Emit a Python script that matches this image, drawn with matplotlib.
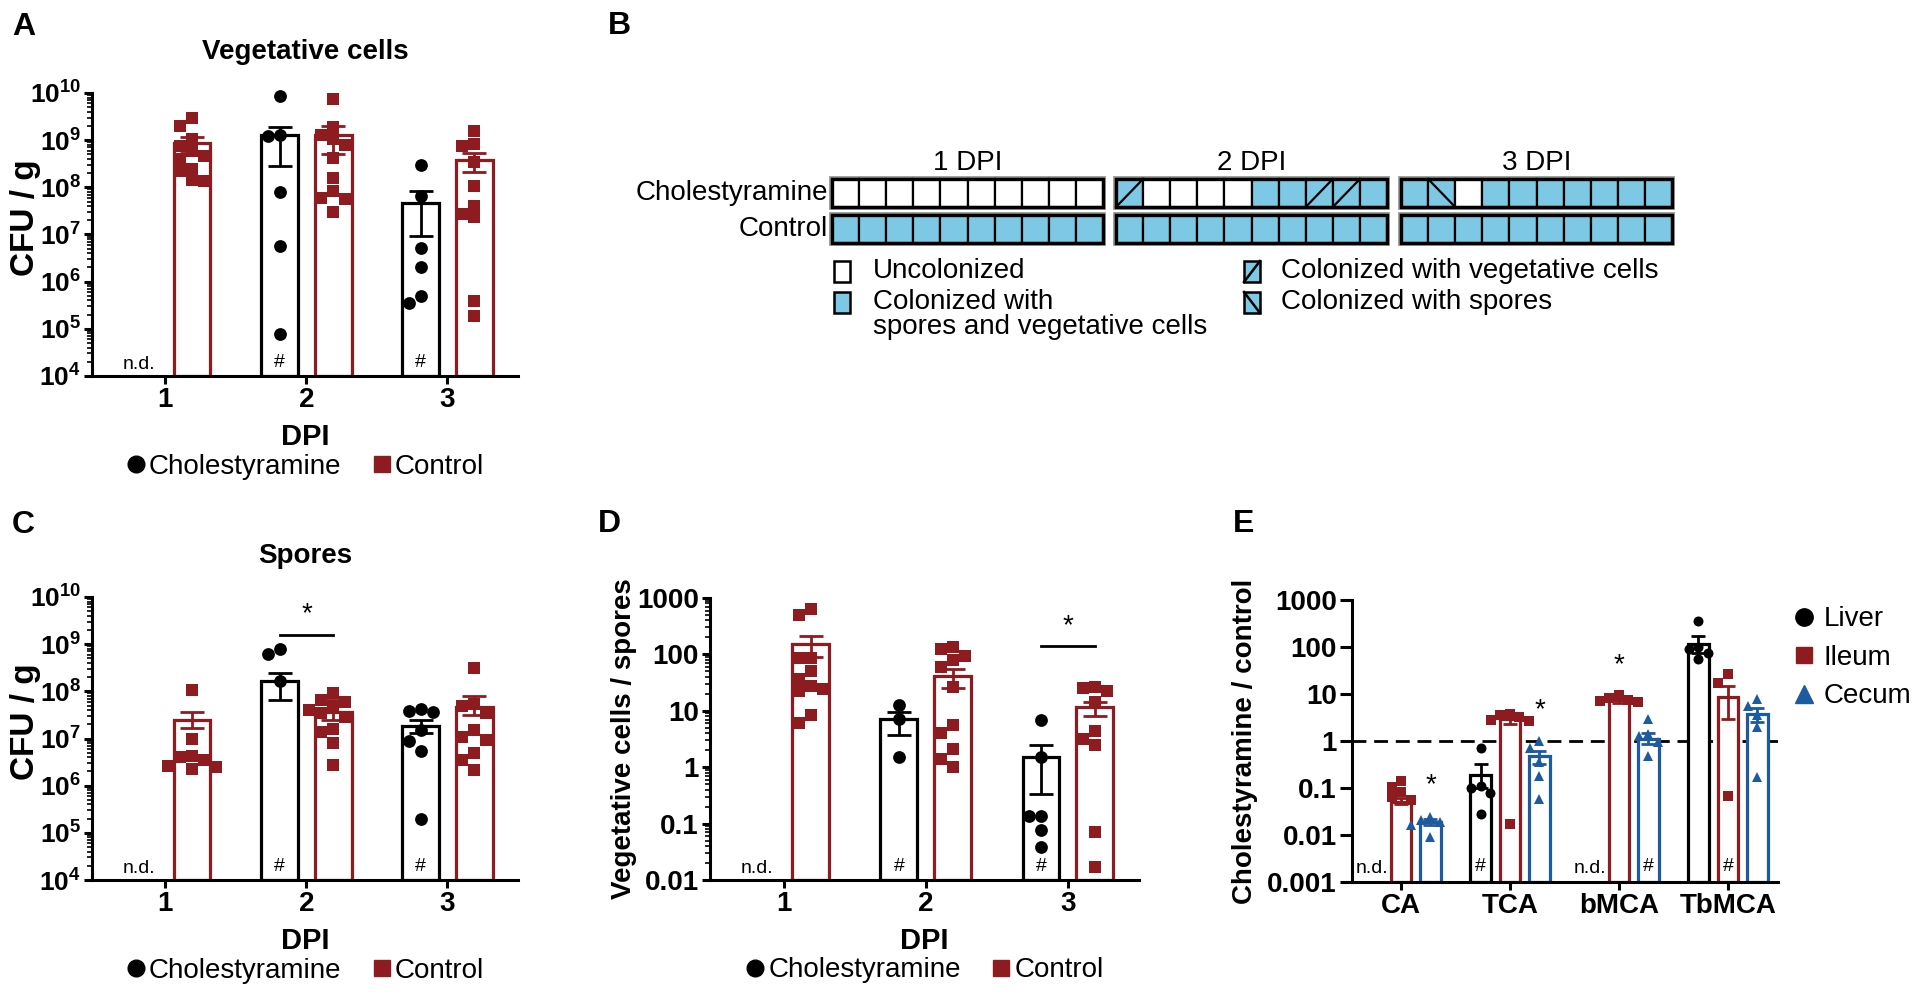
import numpy as np
import matplotlib
matplotlib.use("Agg")
import matplotlib.pyplot as plt
from matplotlib.patches import Rectangle
from matplotlib.lines import Line2D
from matplotlib.ticker import LogLocator, NullLocator, NullFormatter

plt.rcParams['font.family'] = ['Liberation Sans', 'DejaVu Sans']
plt.rcParams['mathtext.fontset'] = 'custom'
plt.rcParams['mathtext.rm'] = 'Liberation Sans'
plt.rcParams['mathtext.bf'] = 'Liberation Sans:bold'
plt.rcParams['axes.linewidth'] = 2.2

RED = '#8E1B1F'
BLUE = '#1E5AA0'
CYAN = '#7DC8E4'
BLACK = '#000000'
NAN = np.nan

# ------------------------------------------------------------------ data
days = [1, 2, 3]
day_labels = ['1', '2', '3']

# Panel A : vegetative cells (CFU/g)
A_chol_pts = [[], [8.5e9, 1.3e9, 1.2e9, 7.8e7, 5.8e6, 7.6e4],
              [3.0e8, 6.5e7, 5.2e6, 2.0e6, 5.0e5, 3.5e5]]
A_ctrl_pts = [[2.9e9, 1.95e9, 1.05e9, 7.6e8, 6.0e8, 4.7e8, 4.0e8, 2.45e8, 2.2e8, 1.4e8, 1.35e8],
              [7.4e9, 1.86e9, 1.26e9, 1.05e9, 7.9e8, 4.1e8, 1.6e8, 8.5e7, 6.0e7, 5.6e7, 3.0e7],
              [1.6e9, 8.3e8, 7.6e8, 3.5e8, 1.07e8, 4.1e7, 2.7e7, 2.3e7, 3.9e5, 1.9e5]]
A_chol_mean = [NAN, 1.29e9, 4.6e7]
A_ctrl_mean = [8.7e8, 1.29e9, 3.8e8]
A_chol_lo = [NAN, 2.9e8, 9.1e6]
A_chol_hi = [NAN, 1.86e9, 8.5e7]
A_ctrl_lo = [5.9e8, 5.0e8, 2.1e8]
A_ctrl_hi = [1.15e9, 2.0e9, 5.4e8]

# Panel C : spores (CFU/g)
C_chol_pts = [[], [7.9e8, 6.3e8, 1.66e8],
              [4.2e7, 3.9e7, 3.7e7, 1.5e7, 8.7e6, 5.5e6, 1.95e5]]
C_ctrl_pts = [[1.05e8, 9.8e6, 4.2e6, 4.0e6, 3.5e6, 2.6e6, 2.5e6, 2.3e6],
              [9.1e7, 6.6e7, 6.0e7, 4.6e7, 4.0e7, 3.5e7, 2.8e7, 1.6e7, 1.4e7, 7.9e6, 2.75e6],
              [3.1e8, 5.4e7, 4.9e7, 3.5e7, 1.5e7, 1.1e7, 9.3e6, 4.9e6, 3.5e6, 2.1e6]]
C_chol_mean = [NAN, 1.66e8, 1.85e7]
C_ctrl_mean = [2.5e7, 3.7e7, 4.7e7]
C_chol_lo = [NAN, 6.5e7, 1.3e7]
C_chol_hi = [NAN, 2.5e8, 2.5e7]
C_ctrl_lo = [1.66e7, 2.5e7, 3.2e7]
C_ctrl_hi = [3.7e7, 6.6e7, 7.8e7]
C_sig_day, C_sig_y = 2, 1.6e9

# Panel D : vegetative cells / spores
D_chol_pts = [[], [12.6, 7.1, 1.5], [6.8, 1.5, 0.135, 0.135, 0.078, 0.039]]
D_ctrl_pts = [[630, 490, 87, 85, 51, 37, 28, 24, 22, 8.3, 6.2],
              [135, 126, 95, 79, 60, 26, 5.5, 4.0, 2.1, 1.4, 1.0],
              [26, 25, 22, 14.5, 4.3, 3.2, 2.45, 0.072, 0.017]]
D_chol_mean = [NAN, 7.1, 1.5]
D_ctrl_mean = [150, 41, 11.5]
D_chol_lo = [NAN, 3.7, 0.34]
D_chol_hi = [NAN, 9.6, 2.45]
D_ctrl_lo = [91, 25, 8.0]
D_ctrl_hi = [214, 56, 14.5]
D_sig_day, D_sig_y = 3, 141

# Panel E : cholestyramine / control ratio of bile acids
acids = ['CA', 'TCA', 'bMCA', 'TbMCA']
tissues = ['Liver', 'Ileum', 'Cecum']
E_liver_pts = [[], [0.72, 0.11, 0.10, 0.078, 0.028], [], [355, 100, 89, 76, 55]]
E_ileum_pts = [[0.14, 0.105, 0.082, 0.065, 0.055], [3.8, 3.5, 3.2, 2.8, 2.6, 0.017],
               [9.3, 8.3, 7.6, 7.1, 6.6], [26, 17, 0.066]]
E_cecum_pts = [[0.024, 0.021, 0.019, 0.016, 0.009], [1.0, 0.72, 0.35, 0.18, 0.059],
               [2.95, 1.4, 1.3, 0.93, 0.49], [7.8, 5.6, 3.5, 1.95, 0.17]]
E_liver_mean = [NAN, 0.19, NAN, 117]
E_ileum_mean = [0.05, 2.9, 7.4, 8.5]
E_cecum_mean = [0.019, 0.49, 1.1, 3.7]
E_liver_lo = [NAN, 0.10, NAN, 76]
E_liver_hi = [NAN, 0.32, NAN, 172]
E_ileum_lo = [0.045, 2.3, 6.3, 2.95]
E_ileum_hi = [0.06, 3.4, 8.5, 14.8]
E_cecum_lo = [0.016, 0.33, 0.87, 2.5]
E_cecum_hi = [0.022, 0.62, 1.5, 5.1]
E_hash = [('Liver', 1), ('Cecum', 2), ('Ileum', 3)]
E_stars = [('Cecum', 0, 0.115), ('Cecum', 1, 4.6), ('Ileum', 2, 42)]

# Panel B : colonization status per mouse (U=uncolonized, B=spores+veg, V=veg, S=spores)
B_days = ['1 DPI', '2 DPI', '3 DPI']
B_rows = ['Cholestyramine', 'Control']
B_chol = ['UUUUUUUUUU', 'VUUUUBBVVB', 'BSUBBBBBBB']
B_ctrl = ['BBBBBBBBBB', 'BBBBBBBBBB', 'BBBBBBBBBB']
B_legend = [('U', 'Uncolonized'), ('B', 'Colonized with\nspores and vegetative cells'),
            ('V', 'Colonized with vegetative cells'), ('S', 'Colonized with spores')]

# ------------------------------------------------------------------ figure
W, H = 1920, 998
fig = plt.figure(figsize=(W / 100, H / 100), dpi=100)

axB = fig.add_axes([0, 0, 1, 1])
axB.set_xlim(0, W)
axB.set_ylim(H, 0)
axB.axis('off')

TICK_FS = 20
LAB_FS = 21


def px_axes(l, t, r, b):
    return fig.add_axes([l / W, 1 - b / H, (r - l) / W, (b - t) / H])


def swarm_x(ax, xc, vals, diam):
    vals = np.asarray(vals, float)
    if len(vals) == 0:
        return np.array([])
    pts = ax.transData.transform(np.column_stack([np.full(len(vals), xc), vals]))
    xc_px = pts[0, 0]
    ys = pts[:, 1]
    order = np.argsort(-ys)
    placed = []
    xs = np.zeros(len(vals))
    for i in order:
        for k in [0, -1, 1, -2, 2, -3, 3, -4, 4]:
            cand = xc_px + k * diam * 0.95
            ok = all((cand - px) ** 2 + (ys[i] - py) ** 2 >= (diam * 0.9) ** 2 for px, py in placed)
            if ok:
                break
        placed.append((cand, ys[i]))
        xs[i] = cand
    inv = ax.transData.inverted()
    return np.array([inv.transform((x, y))[0] for x, y in zip(xs, ys)])


def base_style(ax, minor=True):
    ax.set_yscale('log')
    ax.spines['top'].set_visible(False)
    ax.spines['right'].set_visible(False)
    ax.set_facecolor('none')
    ax.tick_params(axis='both', which='major', width=2.2, length=6, pad=2)
    if minor:
        ax.yaxis.set_minor_locator(LogLocator(base=10, subs=np.arange(2, 10), numticks=30))
        ax.tick_params(axis='y', which='minor', width=1.2, length=3.5)
    else:
        ax.yaxis.set_minor_locator(NullLocator())
    ax.yaxis.set_minor_formatter(NullFormatter())


def group_panel(ax, ylo, yhi, chol_pts, ctrl_pts, chol_mean, ctrl_mean,
                chol_lo, chol_hi, ctrl_lo, ctrl_hi, yticks, ylabels, ylabel,
                ylabel_xy, ylabel_fs, title=None, sig=None):
    base_style(ax)
    ax.set_xlim(0.48, 3.50)
    ax.set_ylim(ylo, yhi)
    off, bw = 0.19, 0.26
    for i, d in enumerate(days):
        for sgn, mean, lo, hi, pts, col, mk in [
                (-1, chol_mean[i], chol_lo[i], chol_hi[i], chol_pts[i], BLACK, 'o'),
                (1, ctrl_mean[i], ctrl_lo[i], ctrl_hi[i], ctrl_pts[i], RED, 's')]:
            x = d + sgn * off
            if np.isnan(mean):
                ax.text(x, ylo * (yhi / ylo) ** 0.012, 'n.d.', ha='center', va='bottom',
                        fontsize=14)
                continue
            ax.bar(x, mean - ylo, bottom=ylo, width=bw, facecolor='white', edgecolor=col,
                   linewidth=2.3, zorder=2)
            xs = swarm_x(ax, x, pts, 12.5)
            ax.plot(xs, pts, ls='none', marker=mk, color=col,
                    ms=9.2 if mk == 'o' else 8.6, mew=0, zorder=3, clip_on=False)
            ax.errorbar(x, mean, yerr=[[mean - lo], [hi - mean]], fmt='none', ecolor=col,
                        elinewidth=2.0, capsize=8.5, capthick=2.0, zorder=4)
            if sgn < 0:
                ax.text(x, ylo * (yhi / ylo) ** 0.018, '#', ha='center', va='bottom',
                        fontsize=14)
    ax.set_xticks(days, day_labels, fontsize=TICK_FS, fontweight='bold')
    ax.set_yticks(yticks, ylabels, fontsize=TICK_FS if ylabels[0][0] != '$' else 19,
                  fontweight='bold')
    ax.text(0.5, -0.215, 'DPI', transform=ax.transAxes, ha='center', va='center',
            fontsize=LAB_FS, fontweight='bold')
    ax.text(ylabel_xy[0], ylabel_xy[1], ylabel, transform=ax.transAxes, ha='center',
            va='center', rotation=90, fontsize=ylabel_fs, fontweight='bold')
    if title:
        ax.text(0.5, 1.145, title, transform=ax.transAxes, ha='center', va='center',
                fontsize=20, fontweight='bold')
    if sig:
        d, y = sig
        ax.plot([d - off, d + off], [y, y], color='k', lw=2.0, zorder=5)
        ax.text(d, y * (yhi / ylo) ** 0.025, '*', ha='center', va='bottom', fontsize=20)
    hs = [Line2D([], [], marker='o', ls='none', color=BLACK, ms=12),
          Line2D([], [], marker='s', ls='none', color=RED, ms=11.5)]
    ax.legend(hs, ['Cholestyramine', 'Control'], loc='center', bbox_to_anchor=(0.5, -0.32),
              ncol=2, frameon=False, fontsize=20, handlelength=0.7, handletextpad=0.12,
              columnspacing=1.1, borderpad=0, borderaxespad=0)


pow_ticks = [10.0 ** e for e in range(4, 11)]
pow_labels = [r'$\mathbf{10^{%d}}$' % e for e in range(4, 11)]

axA = px_axes(92, 93, 518, 376)
group_panel(axA, 1e4, 1e10, A_chol_pts, A_ctrl_pts, A_chol_mean, A_ctrl_mean,
            A_chol_lo, A_chol_hi, A_ctrl_lo, A_ctrl_hi, pow_ticks, pow_labels,
            'CFU / g', (-0.155, 0.56), 24, title='Vegetative cells')

axC = px_axes(92, 597, 518, 880)
group_panel(axC, 1e4, 1e10, C_chol_pts, C_ctrl_pts, C_chol_mean, C_ctrl_mean,
            C_chol_lo, C_chol_hi, C_ctrl_lo, C_ctrl_hi, pow_ticks, pow_labels,
            'CFU / g', (-0.155, 0.56), 24, title='Spores', sig=(C_sig_day, C_sig_y))

d_ticks = [0.01, 0.1, 1, 10, 100, 1000]
d_labels = ['0.01', '0.1', '1', '10', '100', '1000']
axD = px_axes(710, 598, 1139, 880)
group_panel(axD, 0.01, 1000, D_chol_pts, D_ctrl_pts, D_chol_mean, D_ctrl_mean,
            D_chol_lo, D_chol_hi, D_ctrl_lo, D_ctrl_hi, d_ticks, d_labels,
            'Vegetative cells / spores', (-0.2, 0.5), 20, sig=(D_sig_day, D_sig_y))

# ---- Panel E
axE = px_axes(1352, 600, 1778, 882)
base_style(axE, minor=False)
E_lo, E_hi = 0.001, 1000
axE.set_xlim(-0.45, 3.46)
axE.set_ylim(E_lo, E_hi)
axE.axhline(1, color='k', lw=2.0, ls=(0, (5, 2.8)), zorder=1)
E_cfg = {'Liver': (-0.27, BLACK, 'o', 7.2, E_liver_pts, E_liver_mean, E_liver_lo, E_liver_hi),
         'Ileum': (0.0, RED, 's', 6.8, E_ileum_pts, E_ileum_mean, E_ileum_lo, E_ileum_hi),
         'Cecum': (0.27, BLUE, '^', 7.6, E_cecum_pts, E_cecum_mean, E_cecum_lo, E_cecum_hi)}
for t in tissues:
    off, col, mk, ms, pts_all, means, los, his = E_cfg[t]
    for i in range(len(acids)):
        x = i + off
        m = means[i]
        if np.isnan(m):
            axE.text(x, E_lo * 1.25, 'n.d.', ha='center', va='bottom', fontsize=14)
            continue
        axE.bar(x, m - E_lo, bottom=E_lo, width=0.19, facecolor='white', edgecolor=col,
                linewidth=2.3, zorder=2)
        xs = swarm_x(axE, x, pts_all[i], 10)
        axE.plot(xs, pts_all[i], ls='none', marker=mk, color=col, ms=ms, mew=0, zorder=3)
        axE.errorbar(x, m, yerr=[[m - los[i]], [his[i] - m]], fmt='none', ecolor=col,
                     elinewidth=2.0, capsize=5, capthick=2.0, zorder=4)
for t, i in E_hash:
    axE.text(i + E_cfg[t][0], E_lo * 1.4, '#', ha='center', va='bottom', fontsize=14)
for t, i, y in E_stars:
    axE.text(i + E_cfg[t][0], y, '*', ha='center', va='center', fontsize=20)
axE.set_xticks(range(len(acids)), acids, fontsize=TICK_FS, fontweight='bold')
axE.set_yticks([0.001, 0.01, 0.1, 1, 10, 100, 1000],
               ['0.001', '0.01', '0.1', '1', '10', '100', '1000'], fontsize=TICK_FS,
               fontweight='bold')
axE.tick_params(axis='y', which='major', length=9)
axE.text(-0.25, 0.5, 'Cholestyramine / control', transform=axE.transAxes, ha='center',
         va='center', rotation=90, fontsize=20, fontweight='bold')
hsE = [Line2D([], [], marker='o', ls='none', color=BLACK, ms=12.5),
       Line2D([], [], marker='s', ls='none', color=RED, ms=12),
       Line2D([], [], marker='^', ls='none', color=BLUE, ms=13)]
axE.legend(hsE, tissues, loc='center left', bbox_to_anchor=(1.035, 0.795), frameon=False,
           fontsize=20, handlelength=0.8, handletextpad=0.3, labelspacing=0.45,
           borderpad=0, borderaxespad=0)

# ---- Panel B (drawn in figure pixel coordinates)
cell_w, cell_h = 27.1, 28
group_x0 = [832, 1116, 1401]
row_y0 = [179, 215]


def draw_cell(x0, y0, w, h, state, lw=1.6):
    fc = 'white' if state == 'U' else CYAN
    axB.add_patch(Rectangle((x0, y0), w, h, facecolor=fc, edgecolor='k', lw=lw, zorder=2))
    if state == 'V':
        axB.plot([x0, x0 + w], [y0 + h, y0], color='k', lw=lw, zorder=3)
    elif state == 'S':
        axB.plot([x0, x0 + w], [y0, y0 + h], color='k', lw=lw, zorder=3)


for g, (gx, lab) in enumerate(zip(group_x0, B_days)):
    for r, states in enumerate([B_chol[g], B_ctrl[g]]):
        for c, st in enumerate(states):
            draw_cell(gx + c * cell_w, row_y0[r], cell_w, cell_h, st)
        axB.add_patch(Rectangle((gx, row_y0[r]), cell_w * len(states), cell_h, fill=False,
                                edgecolor='#9a9a9a', lw=4.2, zorder=1))
        axB.add_patch(Rectangle((gx, row_y0[r]), cell_w * len(states), cell_h, fill=False,
                                edgecolor='k', lw=2.4, zorder=4))
    axB.text(gx + cell_w * 5, 163, lab, ha='center', va='center', fontsize=20)
for r, lab in enumerate(B_rows):
    axB.text(828, row_y0[r] + cell_h / 2, lab, ha='right', va='center', fontsize=20)

leg_pos = [(834, 261, 873), (834, 292, 873), (1244, 261, 1281), (1244, 292, 1281)]
for (st, lab), (lx, ly, tx) in zip(B_legend, leg_pos):
    draw_cell(lx, ly, 16, 21, st, lw=1.8)
    lines = lab.split('\n')
    for j, line in enumerate(lines):
        axB.text(tx, ly + 10 + 25 * j, line, ha='left', va='center', fontsize=20)

# ---- panel letters
for letter, (lx, ly) in zip('ABCDE', [(12, 27), (608, 26), (12, 525), (598, 524), (1233, 524)]):
    axB.text(lx, ly, letter, ha='left', va='center', fontsize=23, fontweight='bold')

fig.savefig('out.png', dpi=100)
